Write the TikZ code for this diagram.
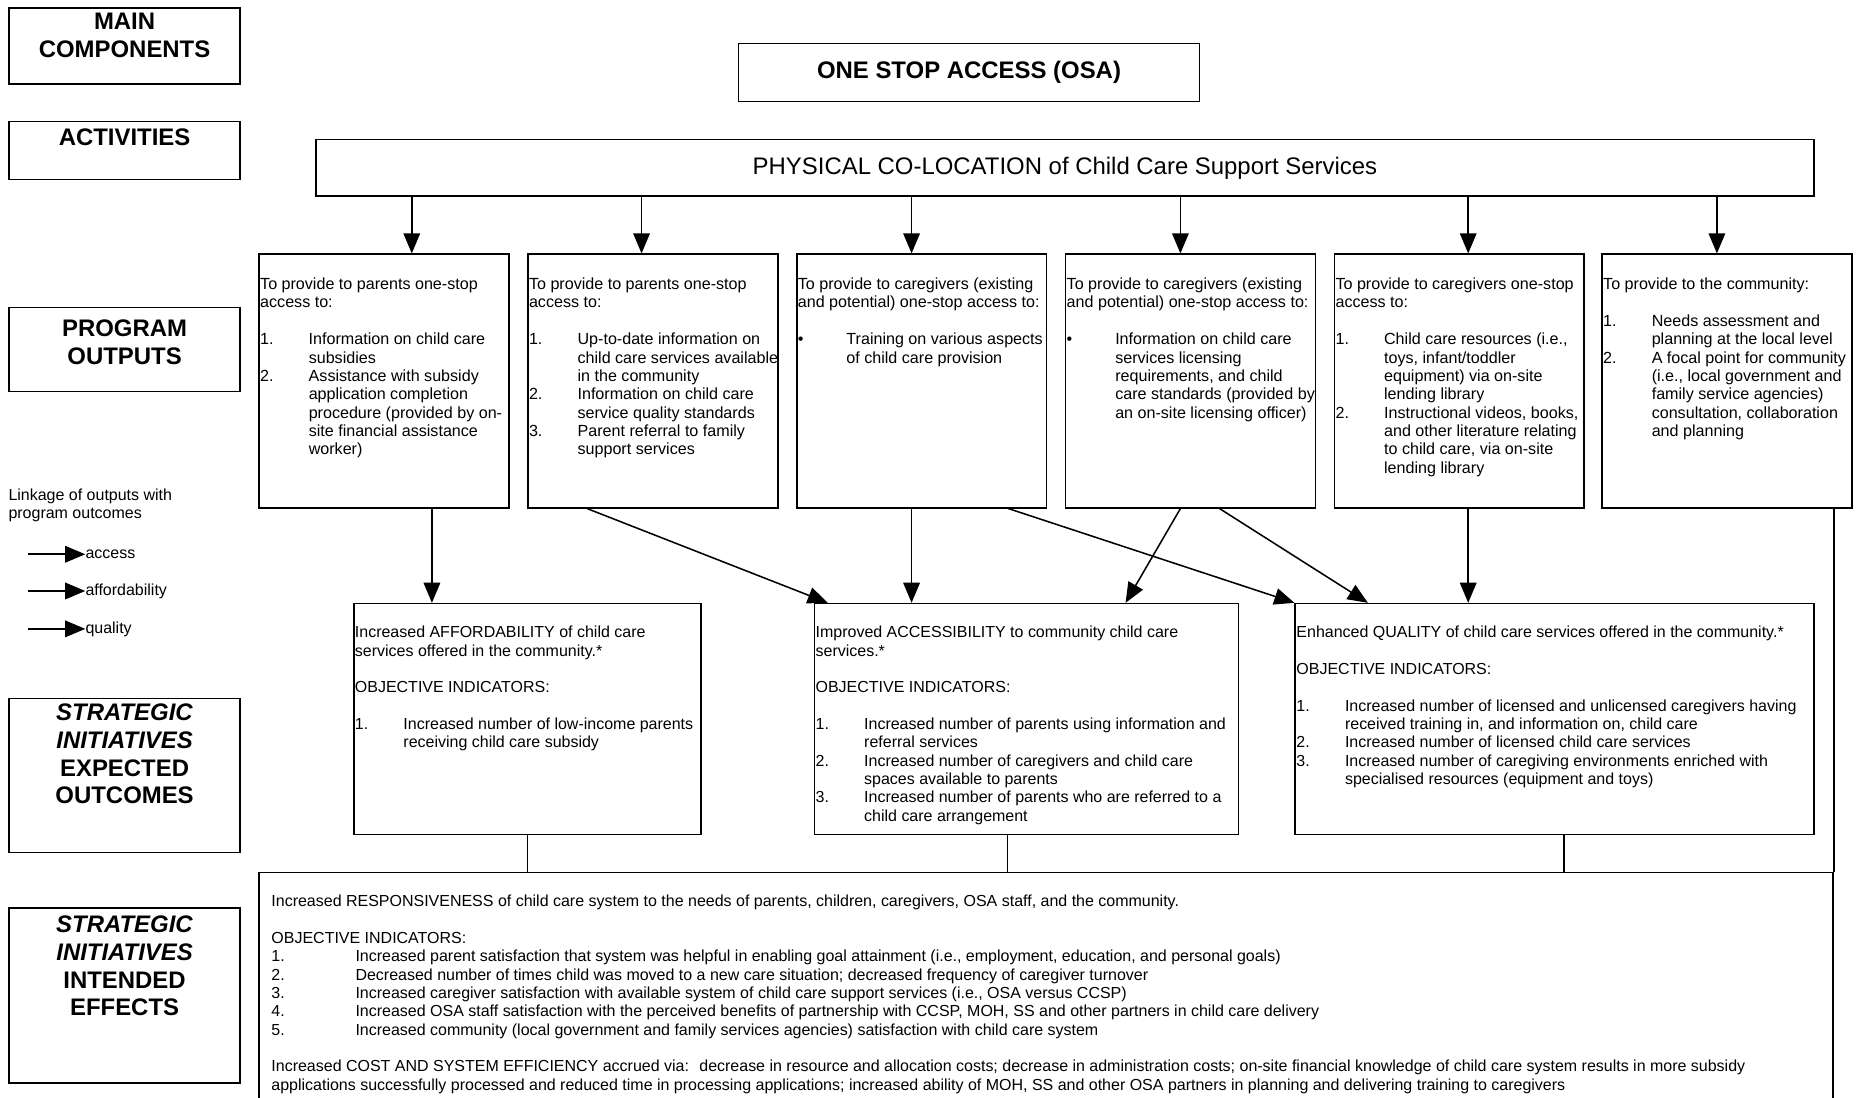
\documentclass[tikz,border=0pt]{standalone}
\usepackage{fontspec}
\setmainfont{Liberation Sans}
\usetikzlibrary{arrows.meta, positioning, calc}

\newcommand{\itemno}[2][41pt]{\makebox[#1][l]{#2}}
\newcommand{\itemgap}[1][41pt]{\hspace*{#1}}

\begin{document}
\begin{tikzpicture}[
    x=1pt, y=-1pt,
    font=\fontsize{13.5}{15.5}\selectfont,
    % styles
    box/.style={draw, line width=1.4pt, inner sep=0pt, anchor=north west},
    sidebox/.style={box, minimum width=195pt},
    outbox/.style={box, minimum width=211pt, minimum height=214pt},
    goalbox/.style={box, minimum height=195pt},
    sidetext/.style={inner sep=0pt, align=center, font=\fontsize{20.2}{23.5}\selectfont\bfseries,
        execute at begin node=\rule{0pt}{16pt}},
    bodytext/.style={inner sep=0pt, align=left, execute at begin node=\rule{0pt}{11pt}},
    outtext/.style={bodytext, font=\fontsize{13.6}{15.5}\selectfont},
    legtext/.style={inner sep=0pt, anchor=west, text height=9.9pt, text depth=2.8pt},
    arr/.style={-{Triangle[length=17pt, width=14pt]}, line width=1.3pt},
    link/.style={line width=1.2pt}
]
    \useasboundingbox (0,0) rectangle (1568,927);

    % --- LEFT COLUMN ---
    \node[sidebox, minimum height=64pt] (comp) at (7,6) {};
    \node[sidetext, below=5pt of comp.north] (comptxt) {MAIN\\COMPONENTS};
    \node[sidebox, minimum height=49pt] (act) at (7,102) {};
    \node[sidetext, below=5pt of act.north] (acttxt) {ACTIVITIES};
    \node[sidebox, minimum height=71pt] (prog) at (7,259) {};
    \node[sidetext, below=11pt of prog.north] (progtxt) {PROGRAM\\OUTPUTS};
    \node[sidebox, minimum height=130pt] (expc) at (7,589) {};
    \node[sidetext, below=5pt of expc.north] (expctxt) {\textit{STRATEGIC}\\\textit{INITIATIVES}\\EXPECTED\\OUTCOMES};
    \node[sidebox, minimum height=148pt] (intd) at (7,766) {};
    \node[sidetext, below=7pt of intd.north] (intdtxt) {\textit{STRATEGIC}\\\textit{INITIATIVES}\\INTENDED\\EFFECTS};

    % --- TOP ---
    \node[box, minimum width=389pt, minimum height=49pt, font=\fontsize{20.2}{23}\selectfont\bfseries] (osa) at (623,36) {ONE STOP ACCESS (OSA)};
    \node[box, minimum width=1265pt, minimum height=48pt, font=\fontsize{20.2}{23}\selectfont] (coloc) at (266,117) {PHYSICAL CO-LOCATION of Child Care Support Services};

    % --- PROGRAM OUTPUTS ---
    \foreach \n/\x in {out1/218, out2/445, out3/672, out4/899, out5/1126, out6/1352}
        \node[outbox] (\n) at (\x,214) {};

    \foreach \n/\dx in {out1/23.5, out2/-9.5, out3/-8.5, out4/-8.5, out5/7.5, out6/-8.5}
        \draw[arr] ([xshift=\dx]\n.north |- coloc.south) -- ([xshift=\dx]\n.north);

    \node[outtext, below right=20.5pt and 1.5pt of out1.north west] (out1txt) {
        To provide to parents one-stop\\
        access to:\\[15.5pt]
        \itemno{1.}Information on child care\\
        \itemgap subsidies\\
        \itemno{2.}Assistance with subsidy\\
        \itemgap application completion\\
        \itemgap procedure (provided by on-\\
        \itemgap site financial assistance\\
        \itemgap worker)};
    \node[outtext, below right=20.5pt and 1.5pt of out2.north west] (out2txt) {
        To provide to parents one-stop\\
        access to:\\[15.5pt]
        \itemno{1.}Up-to-date information on\\
        \itemgap child care services available\\
        \itemgap in the community\\
        \itemno{2.}Information on child care\\
        \itemgap service quality standards\\
        \itemno{3.}Parent referral to family\\
        \itemgap support services};
    \node[outtext, below right=20.5pt and 1.5pt of out3.north west] (out3txt) {
        To provide to caregivers (existing\\
        and potential) one-stop access to:\\[15.5pt]
        \itemno{\textbullet}Training on various aspects\\
        \itemgap of child care provision};
    \node[outtext, below right=20.5pt and 1.5pt of out4.north west] (out4txt) {
        To provide to caregivers (existing\\
        and potential) one-stop access to:\\[15.5pt]
        \itemno{\textbullet}Information on child care\\
        \itemgap services licensing\\
        \itemgap requirements, and child\\
        \itemgap care standards (provided by\\
        \itemgap an on-site licensing officer)};
    \node[outtext, below right=20.5pt and 1.5pt of out5.north west] (out5txt) {
        To provide to caregivers one-stop\\
        access to:\\[15.5pt]
        \itemno{1.}Child care resources (i.e.,\\
        \itemgap toys, infant/toddler\\
        \itemgap equipment) via on-site\\
        \itemgap lending library\\
        \itemno{2.}Instructional videos, books,\\
        \itemgap and other literature relating\\
        \itemgap to child care, via on-site\\
        \itemgap lending library};
    \node[outtext, below right=20.5pt and 1.5pt of out6.north west] (out6txt) {
        To provide to the community:\\[15.5pt]
        \itemno{1.}Needs assessment and\\
        \itemgap planning at the local level\\
        \itemno{2.}A focal point for community\\
        \itemgap (i.e., local government and\\
        \itemgap family service agencies)\\
        \itemgap consultation, collaboration\\
        \itemgap and planning};

    % --- LEGEND ---
    \node[bodytext, anchor=north west] (legtitle) at (7,412.5) {Linkage of outputs with\\program outcomes};
    \foreach \n/\y/\t in {legacc/468/access, legaff/499/affordability, legqual/531/quality} {
        \node[legtext] (\n) at (72,\y) {\t};
        \coordinate (\n start) at (24,\y);
        \draw[arr] (\n start) -- (\n.west);
    }

    % --- EXPECTED OUTCOMES ---
    \node[goalbox, minimum width=293pt] (aff) at (298,509) {};
    \node[goalbox, minimum width=358pt] (acc) at (687,509) {};
    \node[goalbox, minimum width=438pt] (qual) at (1093,509) {};

    \node[bodytext, below right=19.5pt and 1.5pt of aff.north west] (afftxt) {
        Increased AFFORDABILITY of child care\\
        services offered in the community.*\\[15.5pt]
        OBJECTIVE INDICATORS:\\[15.5pt]
        \itemno{1.}Increased number of low-income parents\\
        \itemgap receiving child care subsidy};
    \node[bodytext, below right=19.5pt and 1.5pt of acc.north west] (acctxt) {
        Improved ACCESSIBILITY to community child care\\
        services.*\\[15.5pt]
        OBJECTIVE INDICATORS:\\[15.5pt]
        \itemno{1.}Increased number of parents using information and\\
        \itemgap referral services\\
        \itemno{2.}Increased number of caregivers and child care\\
        \itemgap spaces available to parents\\
        \itemno{3.}Increased number of parents who are referred to a\\
        \itemgap child care arrangement};
    \node[bodytext, below right=19.5pt and 1.5pt of qual.north west] (qualtxt) {
        Enhanced QUALITY of child care services offered in the community.*\\[15.5pt]
        OBJECTIVE INDICATORS:\\[15.5pt]
        \itemno{1.}Increased number of licensed and unlicensed caregivers having\\
        \itemgap received training in, and information on, child care\\
        \itemno{2.}Increased number of licensed child care services\\
        \itemno{3.}Increased number of caregiving environments enriched with\\
        \itemgap specialised resources (equipment and toys)};

    % output -> outcome links
    \draw[arr] ([xshift=40.5]out1.south) -- ([xshift=40.5]out1.south |- aff.north);
    \draw[arr] ([xshift=-55.5]out2.south) -- ([xshift=12]acc.north west);
    \draw[arr] ([xshift=-8.5]out3.south) -- ([xshift=-8.5]out3.south |- acc.north);
    \draw[arr] ([xshift=-33]out3.south east) -- (qual.north west);
    \draw[arr] ([xshift=-8.5]out4.south) -- ([xshift=-96]acc.north east);
    \draw[arr] ([xshift=24.5]out4.south) -- ([xshift=62]qual.north west);
    \draw[arr] ([xshift=7.5]out5.south) -- ([xshift=7.5]out5.south |- qual.north);

    % --- INTENDED EFFECTS ---
    \node[box, minimum width=1329pt, minimum height=204pt] (eff) at (218,736) {};
    \node[bodytext, below right=19.5pt and 11pt of eff.north west] (efftxt) {
        Increased RESPONSIVENESS of child care system to the needs of parents, children, caregivers, OSA staff, and the community.\\[15.5pt]
        OBJECTIVE INDICATORS:\\
        \itemno[71pt]{1.}Increased parent satisfaction that system was helpful in enabling goal attainment (i.e., employment, education, and personal goals)\\
        \itemno[71pt]{2.}Decreased number of times child was moved to a new care situation; decreased frequency of caregiver turnover\\
        \itemno[71pt]{3.}Increased caregiver satisfaction with available system of child care support services (i.e., OSA versus CCSP)\\
        \itemno[71pt]{4.}Increased OSA staff satisfaction with the perceived benefits of partnership with CCSP, MOH, SS and other partners in child care delivery\\
        \itemno[71pt]{5.}Increased community (local government and family services agencies) satisfaction with child care system\\[15.5pt]
        Increased COST AND SYSTEM EFFICIENCY accrued via:~ decrease in resource and allocation costs; decrease in administration costs; on-site financial knowledge of child care system results in more subsidy\\
        applications successfully processed and reduced time in processing applications; increased ability of MOH, SS and other OSA partners in planning and delivering training to caregivers};

    \draw[link] (out6.south -| eff.north east) -- (eff.north east);
    \draw[link] (aff.south) -- (aff.south |- eff.north);
    \draw[link] ([xshift=-16]acc.south) -- ([xshift=-16]acc.south |- eff.north);
    \draw[link] ([xshift=8]qual.south) -- ([xshift=8]qual.south |- eff.north);

\end{tikzpicture}
\end{document}
